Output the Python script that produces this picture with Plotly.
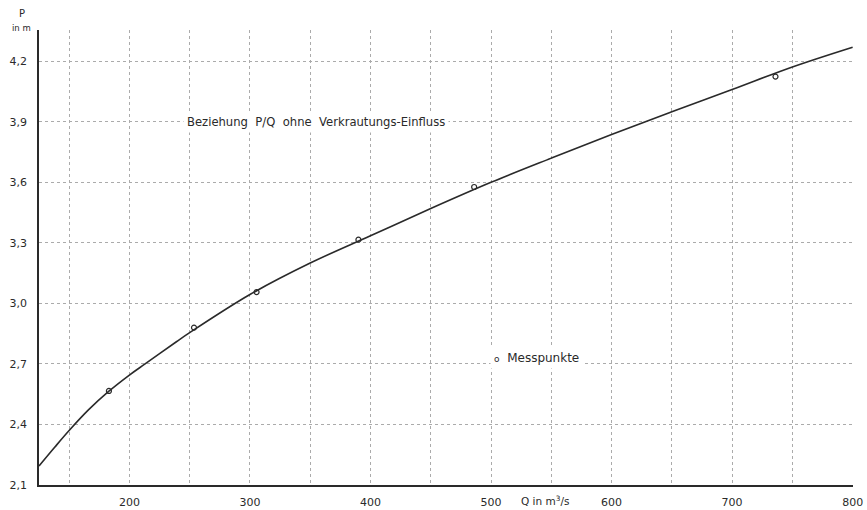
import plotly.graph_objects as go

# Curve P/Q
curve_q = [125, 138, 150, 166, 183, 200, 213, 239, 250, 300, 350, 400, 450, 500, 550, 600, 650, 700, 750, 800]
curve_p = [2.194, 2.287, 2.37, 2.472, 2.565, 2.645, 2.70, 2.81, 2.855, 3.044, 3.20, 3.335, 3.47, 3.60, 3.72,
           3.837, 3.95, 4.06, 4.172, 4.27]

# Measured points (Messpunkte)
mess_q = [183, 253.6, 305.5, 390, 486, 736]
mess_p = [2.566, 2.88, 3.056, 3.316, 3.577, 4.124]

x_ticks = [200, 300, 400, 500, 600, 700, 800]
y_ticks = [2.1, 2.4, 2.7, 3.0, 3.3, 3.6, 3.9, 4.2]
y_ticktext = ["2,1", "2,4", "2,7", "3,0", "3,3", "3,6", "3,9", "4,2"]

FONT = "DejaVu Sans"
INK = "#2a2a2a"
GRID = "#ababab"

fig = go.Figure()
fig.add_trace(go.Scatter(
    x=curve_q, y=curve_p, mode="lines", line=dict(color=INK, width=1.6, shape="spline"),
    showlegend=False, hoverinfo="skip"))
fig.add_trace(go.Scatter(
    x=mess_q, y=mess_p, mode="markers", name="Messpunkte",
    marker=dict(symbol="circle-open", size=5, color=INK, line=dict(width=1.2, color=INK)),
    showlegend=False))

fig.update_layout(
    width=867, height=510,
    margin=dict(l=39, r=14, t=30, b=25),
    paper_bgcolor="white", plot_bgcolor="white",
    font=dict(family=FONT, size=11, color=INK),
    showlegend=False,
)

fig.update_xaxes(
    range=[125, 800.3], tickvals=x_ticks, ticktext=[str(v) for v in x_ticks],
    showgrid=True, gridcolor=GRID, gridwidth=0.8, griddash="dot",
    minor=dict(dtick=50, tick0=0, showgrid=True, gridcolor=GRID, gridwidth=0.8, griddash="dot"),
    showline=True, linecolor=INK, linewidth=1.6, zeroline=False, automargin=False,
    ticks="", ticklabelstandoff=6, tickfont=dict(size=11, color=INK),
)
fig.update_yaxes(
    range=[2.1, 4.355], tickvals=y_ticks, ticktext=y_ticktext,
    showgrid=True, gridcolor=GRID, gridwidth=0.8, griddash="dot",
    showline=True, linecolor=INK, linewidth=1.6, zeroline=False, automargin=False,
    ticks="", ticklabelstandoff=8, tickfont=dict(size=11, color=INK),
)

# axis titles
fig.add_annotation(x=-0.021, y=1.0, xref="paper", yref="paper", xanchor="center", yanchor="middle",
                   yshift=17, text="P", showarrow=False, font=dict(size=10, color=INK))
fig.add_annotation(x=-0.021, y=1.0, xref="paper", yref="paper", xanchor="center", yanchor="middle",
                   yshift=2, text="in m", showarrow=False, font=dict(size=8.5, color=INK))
fig.add_annotation(x=0.622, y=0, xref="paper", yref="paper", xanchor="center", yanchor="top",
                   yshift=-7, text="Q in m<sup>3</sup>/s", showarrow=False,
                   font=dict(size=10.5, color=INK))

# in-plot labels
fig.add_annotation(x=355, y=3.9, xref="x", yref="y", text="Beziehung  P/Q  ohne  Verkrautungs-Einfluss",
                   showarrow=False, bgcolor="white", font=dict(size=11.6, color=INK), borderpad=3)
fig.add_annotation(x=538, y=2.73, xref="x", yref="y",
                   text="<span style='font-size:9px'>o</span>  Messpunkte",
                   showarrow=False, bgcolor="white", font=dict(size=12, color=INK), borderpad=3)

fig.write_html("out.html", config={"displayModeBar": False},
               post_script="document.body.style.margin='0';document.body.style.overflow='hidden';")
